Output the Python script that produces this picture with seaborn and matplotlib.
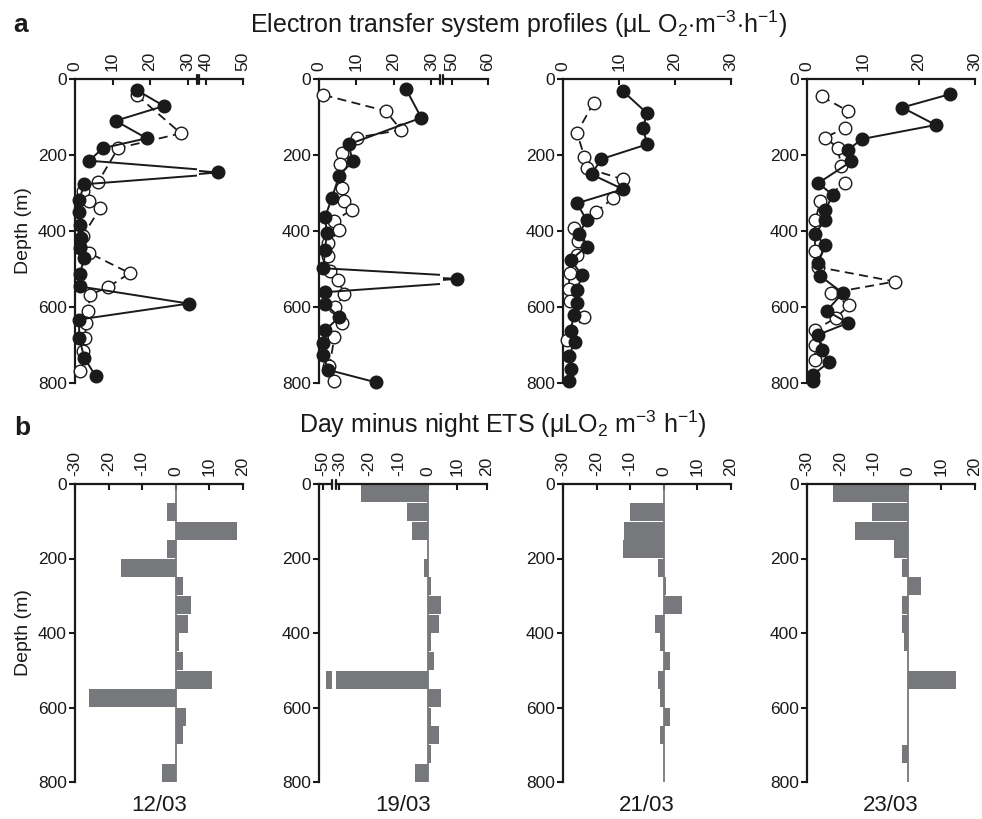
import numpy as np
import matplotlib
matplotlib.use("Agg")
import matplotlib.pyplot as plt
import seaborn as sns

sns.set_theme(style="ticks")
plt.rcParams["font.family"] = ["Liberation Sans", "DejaVu Sans"]
plt.rcParams["mathtext.fontset"] = "custom"
plt.rcParams["mathtext.rm"] = "Liberation Sans"
plt.rcParams["mathtext.it"] = "Liberation Sans:italic"
plt.rcParams["mathtext.bf"] = "Liberation Sans:bold"
plt.rcParams["axes.unicode_minus"] = False
INK = "#1a1a1a"
for key in ["text.color", "axes.labelcolor", "xtick.color", "ytick.color", "axes.edgecolor"]:
    plt.rcParams[key] = INK

dates = ["12/03", "19/03", "21/03", "23/03"]

# ---- ETS profiles (uL O2 m-3 h-1): day casts (filled) and night casts (open)
day_depth_1203 = [29, 71, 110, 156, 182, 215, 246, 277, 318, 349, 384, 419, 445, 471, 512, 546, 591, 633, 681, 734, 782]
day_ets_1203 = [16.4, 23.7, 10.8, 19.1, 7.4, 3.8, 43.2, 2.5, 1.1, 1.1, 1.3, 1.5, 1.3, 2.5, 1.3, 1.3, 30.3, 1.1, 1.1, 2.5, 5.5]
night_depth_1203 = [42, 143, 182, 270, 296, 322, 340, 414, 458, 511, 547, 568, 611, 642, 682, 716, 769]
night_ets_1203 = [16.4, 28.2, 11.5, 6.2, 2.0, 3.8, 6.7, 2.0, 3.8, 14.6, 8.9, 4.0, 3.5, 2.9, 2.7, 2.2, 1.3]

day_depth_1903 = [26, 102, 172, 217, 254, 314, 364, 404, 449, 498, 526, 561, 591, 627, 661, 695, 725, 765, 798]
day_ets_1903 = [23.2, 27.3, 7.9, 9.0, 5.4, 3.4, 1.6, 2.1, 1.6, 1.2, 51.4, 1.6, 1.6, 5.4, 1.6, 1.2, 1.2, 2.3, 15.1]
night_depth_1903 = [42, 84, 134, 154, 195, 224, 286, 320, 344, 373, 397, 432, 467, 505, 528, 566, 601, 642, 680, 756, 794]
night_ets_1903 = [1.2, 17.8, 21.9, 10.2, 6.1, 5.6, 6.1, 6.8, 8.8, 4.1, 5.4, 2.5, 2.3, 3.0, 5.0, 6.8, 4.3, 6.1, 4.1, 2.8, 4.1]

day_depth_2103 = [32, 90, 128, 172, 211, 251, 290, 327, 371, 407, 441, 476, 517, 555, 590, 622, 662, 692, 730, 763, 795]
day_ets_2103 = [10.7, 15.0, 14.3, 15.0, 6.8, 5.1, 10.7, 2.5, 4.2, 2.9, 4.2, 1.4, 3.4, 2.5, 2.5, 1.9, 1.4, 2.1, 1.0, 1.4, 1.0]
night_depth_2103 = [62, 141, 204, 235, 264, 314, 350, 391, 426, 464, 511, 552, 585, 627, 686]
night_ets_2103 = [5.5, 2.5, 3.8, 4.3, 10.7, 8.9, 5.9, 1.9, 2.6, 2.5, 1.2, 1.0, 1.3, 3.7, 0.8]

day_depth_2303 = [40, 75, 121, 158, 187, 217, 274, 305, 344, 371, 407, 438, 483, 519, 563, 610, 642, 673, 712, 745, 778, 795]
day_ets_2303 = [25.5, 17.0, 23.0, 9.8, 7.3, 7.9, 2.0, 4.6, 3.3, 3.3, 1.4, 3.3, 2.0, 2.4, 6.4, 3.5, 7.3, 2.0, 2.6, 3.9, 1.1, 1.1]
night_depth_2303 = [46, 84, 128, 154, 182, 230, 274, 321, 371, 452, 495, 533, 563, 596, 629, 660, 701, 739]
night_ets_2303 = [2.6, 7.3, 6.8, 3.3, 5.5, 6.1, 6.8, 2.4, 1.5, 1.4, 2.0, 15.7, 4.3, 7.5, 5.1, 1.5, 1.5, 1.4]

# ---- Day minus night ETS, 50 m depth layers
layer_mid = [25, 75, 125, 175, 225, 275, 325, 375, 425, 475, 525, 575, 625, 675, 725, 775]
diff_1203 = [0, -2.5, 18.2, -2.5, -16.2, 2.2, 4.5, 3.7, 1.0, 2.2, 10.9, -25.8, 3.0, 2.2, 0, -4.1]
diff_1903 = [-22.7, -7.0, -5.5, 0, -1.4, 1.1, 4.5, 3.6, 1.1, 1.9, -49.0, 4.5, 1.1, 3.6, 1.1, -4.3]
diff_2103 = [0, -10.1, -11.7, -12.2, -1.8, 0.8, 5.5, -2.5, -1.0, 1.8, -1.8, -1.0, 1.8, -1.0, 0, 0]
diff_2303 = [-22.2, -10.6, -15.8, -4.0, -1.8, 4.0, -1.8, -1.8, -1.0, 0, 14.2, 0, 0, 0, -1.8, 0]

depth_ticks = [0, 200, 400, 600, 800]
BAR = "#77787b"
TICK_FS = 12.5
MARK = 82

W, H = 982, 819
fig = plt.figure(figsize=(W / 100, H / 100), dpi=100)


def px_axes(x0, top, w, h):
    return fig.add_axes([x0 / W, 1 - (top + h) / H, w / W, h / H])


def style(ax, xlim, xticks, with_y=True):
    for s in ["right", "bottom"]:
        ax.spines[s].set_visible(False)
    ax.spines["top"].set_linewidth(1.6)
    ax.spines["left"].set_linewidth(1.6)
    ax.spines["left"].set_visible(with_y)
    ax.xaxis.tick_top()
    ax.set_xlim(*xlim)
    ax.set_xticks(xticks)
    ax.set_xticklabels([str(t) for t in xticks])
    ax.tick_params(axis="x", direction="in", length=4, width=1.5,
                   labelsize=TICK_FS, pad=6, labelrotation=90)
    ax.set_ylim(800, 0)
    if with_y:
        ax.set_yticks(depth_ticks)
        ax.set_yticklabels([str(t) for t in depth_ticks])
        ax.tick_params(axis="y", direction="out", length=4, width=1.5,
                       labelsize=TICK_FS, pad=2)
    else:
        ax.tick_params(axis="y", left=False, labelleft=False)
    ax.set_xlabel("")
    ax.set_ylabel("")
    ax.patch.set_alpha(0)
    ax.grid(False)


def break_mark(ax, side):
    x = 1.0 if side == "right" else 0.0
    d = 4.5 / (ax.get_position().height * H)
    ax.plot([x, x], [1 - d, 1 + d], transform=ax.transAxes, color=INK,
            lw=1.6, clip_on=False, zorder=10)


def profile(ax, dd, dv, nd, nv, lo, hi):
    nd, nv, dd, dv = map(np.asarray, (nd, nv, dd, dv))
    sns.lineplot(x=nv, y=nd, sort=False, estimator=None, color=INK, lw=1.3,
                 linestyle=(0, (5, 3)), ax=ax, zorder=2)
    m = (nv >= lo) & (nv <= hi)
    sns.scatterplot(x=nv[m], y=nd[m], s=MARK, color="white", edgecolor=INK,
                    linewidth=1.0, ax=ax, clip_on=False, zorder=3)
    sns.lineplot(x=dv, y=dd, sort=False, estimator=None, color=INK, lw=1.4,
                 ax=ax, zorder=4)
    m = (dv >= lo) & (dv <= hi)
    sns.scatterplot(x=dv[m], y=dd[m], s=MARK, color=INK, edgecolor=INK,
                    linewidth=1.0, ax=ax, clip_on=False, zorder=5)


def bars(ax, vals):
    sns.barplot(x=vals, y=layer_mid, orient="y", native_scale=True, width=0.97,
                color=BAR, saturation=1, errorbar=None, ax=ax, linewidth=0)
    ax.axvline(0, color=BAR, lw=1.3, zorder=1)


lefts = [75, 319, 563, 807]
A_TOP, A_H = 79, 304
B_TOP, B_H = 484, 298

# ---------------- row a
profiles = [
    (day_depth_1203, day_ets_1203, night_depth_1203, night_ets_1203),
    (day_depth_1903, day_ets_1903, night_depth_1903, night_ets_1903),
    (day_depth_2103, day_ets_2103, night_depth_2103, night_ets_2103),
    (day_depth_2303, day_ets_2303, night_depth_2303, night_ets_2303),
]

# 12/03: broken axis 0-32.5 | 38-50
a1l = px_axes(75, A_TOP, 122, A_H)
a1r = px_axes(199, A_TOP, 44, A_H)
profile(a1l, *profiles[0], 0, 32.5)
profile(a1r, *profiles[0], 38, 50)
style(a1l, (0, 32.5), [0, 10, 20, 30])
style(a1r, (38, 50), [40, 50], with_y=False)
break_mark(a1l, "right")
break_mark(a1r, "left")
a1l.set_ylabel("Depth (m)", fontsize=14, labelpad=4)

# 19/03: broken axis 0-32.3 | 47.6-60
a2l = px_axes(319, A_TOP, 121, A_H)
a2r = px_axes(443, A_TOP, 45, A_H)
profile(a2l, *profiles[1], 0, 32.3)
profile(a2r, *profiles[1], 47.6, 60)
style(a2l, (0, 32.3), [0, 10, 20, 30])
style(a2r, (47.6, 60), [50, 60], with_y=False)
break_mark(a2l, "right")
break_mark(a2r, "left")

for i in (2, 3):
    ax = px_axes(lefts[i], A_TOP, 168, A_H)
    profile(ax, *profiles[i], 0, 30)
    style(ax, (0, 30), [0, 10, 20, 30])

# ---------------- row b
diffs = [diff_1203, diff_1903, diff_2103, diff_2303]
b_ticks = [-30, -20, -10, 0, 10, 20]
for i in (0, 2, 3):
    ax = px_axes(lefts[i], B_TOP, 168, B_H)
    bars(ax, diffs[i])
    style(ax, (-30, 20), b_ticks)
    if i == 0:
        ax.set_ylabel("Depth (m)", fontsize=14, labelpad=4)

b2l = px_axes(319, B_TOP, 13, B_H)
b2r = px_axes(336, B_TOP, 151, B_H)
bars(b2l, diff_1903)
bars(b2r, diff_1903)
style(b2l, (-51.3, -47), [-50])
style(b2r, (-31.1, 20), b_ticks, with_y=False)
break_mark(b2l, "right")
break_mark(b2r, "left")

# ---------------- text
fig.text(518 / W, 1 - 33 / H,
         r"Electron transfer system profiles ($\mathrm{\mu}$L O$_2$$\cdot$m$^{-3}$$\cdot$h$^{-1}$)",
         ha="center", va="baseline", fontsize=18)
fig.text(503 / W, 1 - 433 / H,
         r"Day minus night ETS ($\mathrm{\mu}$LO$_2$ m$^{-3}$ h$^{-1}$)",
         ha="center", va="baseline", fontsize=18)
fig.text(13 / W, 1 - 32 / H, "a", fontsize=19, fontweight="bold", ha="left", va="baseline")
fig.text(14 / W, 1 - 435 / H, "b", fontsize=19, fontweight="bold", ha="left", va="baseline")
for i, d in enumerate(dates):
    fig.text((lefts[i] + 84) / W, 1 - 811 / H, d, fontsize=16, ha="center", va="baseline")

fig.savefig("out.png", dpi=100, facecolor="white")
